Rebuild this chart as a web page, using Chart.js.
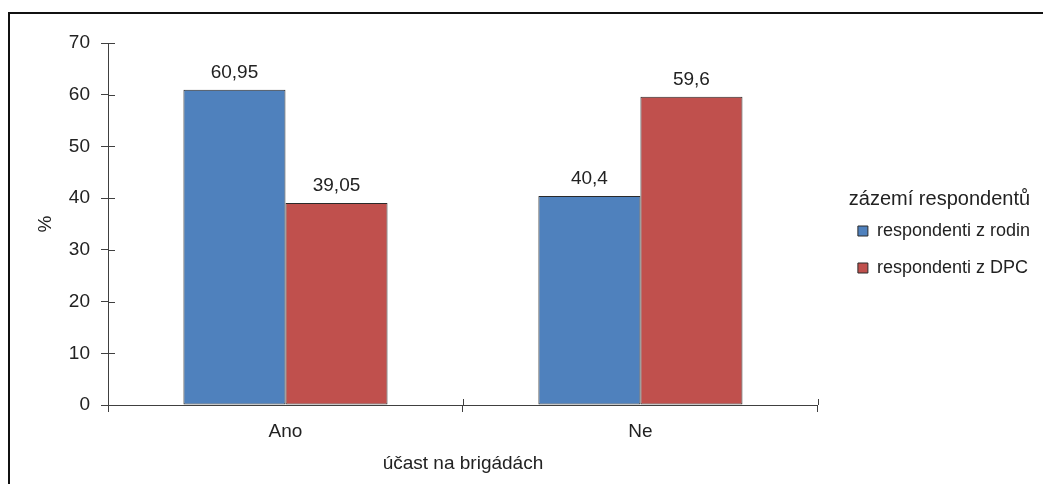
<!DOCTYPE html>
<html>
<head>
<meta charset="utf-8">
<script src="https://cdn.jsdelivr.net/npm/chart.js@4/dist/chart.umd.min.js"></script>
<style>
  html, body { margin: 0; padding: 0; background: #fff; overflow: hidden; }
  #wrap { position: relative; width: 1043px; height: 484px; }
  #frame { position: absolute; left: 8px; top: 12px; width: 1100px; height: 600px;
           border-top: 2px solid #111; border-left: 2px solid #111; }
  canvas { position: absolute; left: 0; top: 0; }
</style>
</head>
<body>
<div id="wrap">
  <div id="frame"></div>
  <canvas id="chart" width="1043" height="484"></canvas>
</div>
<script>
const categories = ['Ano', 'Ne'];
const seriesNames = ['respondenti z rodin', 'respondenti z DPC'];
const rodin = [60.95, 40.4];
const dpc = [39.05, 59.6];
const yTicks = [0, 10, 20, 30, 40, 50, 60, 70];

const FONT = "'Liberation Sans', Arial, sans-serif";
const AXIS = '#404040';

// value labels above bars, Czech decimal comma
const valueLabels = {
    id: 'valueLabels',
    afterDatasetsDraw(chart) {
        const ctx = chart.ctx;
        ctx.save();
        ctx.font = '19px ' + FONT;
        ctx.fillStyle = '#222';
        ctx.textAlign = 'center';
        ctx.textBaseline = 'bottom';
        chart.data.datasets.forEach((ds, i) => {
            chart.getDatasetMeta(i).data.forEach((bar, j) => {
                ctx.fillText(String(ds.data[j]).replace('.', ','), bar.x, bar.y - 8);
            });
        });
        ctx.restore();
    }
};

// inner half of the tick marks (Chart.js only draws them outside)
const crossTicks = {
    id: 'crossTicks',
    afterDraw(chart) {
        const ctx = chart.ctx;
        const y = chart.scales.y, x = chart.scales.x;
        ctx.save();
        ctx.strokeStyle = AXIS;
        ctx.lineWidth = 1;
        ctx.beginPath();
        y.ticks.forEach(t => {
            const py = Math.round(y.getPixelForValue(t.value)) + 0.5;
            ctx.moveTo(y.right, py);
            ctx.lineTo(y.right + 7, py);
        });
        for (let i = 0; i <= categories.length; i++) {
            const px = Math.round(x.left + i * (x.right - x.left) / categories.length) + 0.5;
            ctx.moveTo(px, x.top);
            ctx.lineTo(px, x.top - 6);
        }
        ctx.stroke();
        ctx.restore();
    }
};

// nudge the legend away from the plot, like the original
const legendShift = {
    id: 'legendShift',
    afterLayout(chart) {
        const l = chart.legend;
        l.left += 21; l.right += 21;
        l.top -= 21; l.bottom -= 21;
    }
};

new Chart(document.getElementById('chart'), {
    type: 'bar',
    data: {
        labels: categories,
        datasets: [
            { label: seriesNames[0], data: rodin, backgroundColor: '#4F81BD', borderColor: '#2a2a2a', borderWidth: 1, borderSkipped: false },
            { label: seriesNames[1], data: dpc, backgroundColor: '#C0504D', borderColor: '#2a2a2a', borderWidth: 1, borderSkipped: false }
        ]
    },
    options: {
        responsive: false,
        animation: false,
        devicePixelRatio: 1,
        layout: { padding: { left: 20, top: 43, right: 24, bottom: 0 } },
        datasets: { bar: { barPercentage: 1, categoryPercentage: 0.575 } },
        scales: {
            x: {
                afterFit: s => { s.height = 79; },
                grid: { drawOnChartArea: false, tickLength: 7, color: AXIS, offset: true },
                border: { color: AXIS },
                ticks: { font: { family: FONT, size: 19 }, color: '#222', padding: 8 },
                title: { display: true, text: 'účast na brigádách', font: { family: FONT, size: 19 }, color: '#222', padding: { top: 0, bottom: 9 } }
            },
            y: {
                min: 0, max: 70,
                afterFit: s => { s.width = 88; },
                afterBuildTicks: s => { s.ticks = yTicks.map(v => ({ value: v })); },
                grid: { drawOnChartArea: false, tickLength: 7, color: AXIS },
                border: { color: AXIS },
                ticks: { font: { family: FONT, size: 19 }, color: '#222', padding: 11 },
                title: { display: true, text: '%', font: { family: FONT, size: 19 }, color: '#222', padding: { top: 14, bottom: 0 } }
            }
        },
        plugins: {
            tooltip: { enabled: false },
            legend: {
                position: 'right',
                title: { display: true, text: 'zázemí respondentů', font: { family: FONT, size: 20, lineHeight: 1 }, color: '#222', padding: { top: 0, bottom: -6 } },
                labels: { font: { family: FONT, size: 18 }, color: '#222', boxWidth: 10, boxHeight: 10, padding: 19 }
            }
        }
    },
    plugins: [valueLabels, crossTicks, legendShift]
});
</script>
</body>
</html>
